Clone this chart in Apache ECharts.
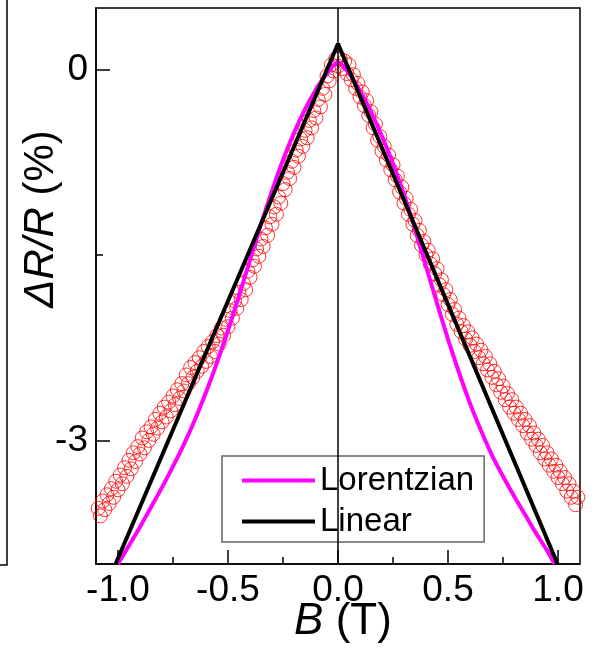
<!DOCTYPE html>
<html><head><meta charset="utf-8">
<script src="https://cdn.jsdelivr.net/npm/echarts@6/dist/echarts.min.js"></script>
<style>html,body{margin:0;padding:0;background:#fff}#c{width:594px;height:651px}</style>
</head><body><div id="c"></div>
<script>
// Measured magnetoresistance (open red circles)
const fieldB = [
-1.09,-1.08,-1.07,-1.06,-1.05,-1.04,-1.03,-1.02,-1.01,-1.00,
-0.99,-0.98,-0.97,-0.96,-0.95,-0.94,-0.93,-0.92,-0.91,-0.90,
-0.89,-0.88,-0.87,-0.86,-0.85,-0.84,-0.83,-0.82,-0.81,-0.80,
-0.79,-0.78,-0.77,-0.76,-0.75,-0.74,-0.73,-0.72,-0.71,-0.70,
-0.69,-0.68,-0.67,-0.66,-0.65,-0.64,-0.63,-0.62,-0.61,-0.60,
-0.59,-0.58,-0.57,-0.56,-0.55,-0.54,-0.53,-0.52,-0.51,-0.50,
-0.49,-0.48,-0.47,-0.46,-0.45,-0.44,-0.43,-0.42,-0.41,-0.40,
-0.39,-0.38,-0.37,-0.36,-0.35,-0.34,-0.33,-0.32,-0.31,-0.30,
-0.29,-0.28,-0.27,-0.26,-0.25,-0.24,-0.23,-0.22,-0.21,-0.20,
-0.19,-0.18,-0.17,-0.16,-0.15,-0.14,-0.13,-0.12,-0.11,-0.10,
-0.09,-0.08,-0.07,-0.06,-0.05,-0.04,-0.03,-0.02,-0.01,0.00,
0.01,0.02,0.03,0.04,0.05,0.06,0.07,0.08,0.09,0.10,
0.11,0.12,0.13,0.14,0.15,0.16,0.17,0.18,0.19,0.20,
0.21,0.22,0.23,0.24,0.25,0.26,0.27,0.28,0.29,0.30,
0.31,0.32,0.33,0.34,0.35,0.36,0.37,0.38,0.39,0.40,
0.41,0.42,0.43,0.44,0.45,0.46,0.47,0.48,0.49,0.50,
0.51,0.52,0.53,0.54,0.55,0.56,0.57,0.58,0.59,0.60,
0.61,0.62,0.63,0.64,0.65,0.66,0.67,0.68,0.69,0.70,
0.71,0.72,0.73,0.74,0.75,0.76,0.77,0.78,0.79,0.80,
0.81,0.82,0.83,0.84,0.85,0.86,0.87,0.88,0.89,0.90,
0.91,0.92,0.93,0.94,0.95,0.96,0.97,0.98,0.99,1.00,
1.01,1.02,1.03,1.04,1.05,1.06,1.07,1.08,1.09
];
const deltaR = [
-3.55,-3.61,-3.49,-3.56,-3.44,-3.51,-3.39,-3.46,-3.33,-3.40,
-3.28,-3.35,-3.22,-3.29,-3.16,-3.23,-3.10,-3.17,-3.05,-3.11,
-2.98,-3.06,-2.93,-3.00,-2.89,-2.95,-2.83,-2.90,-2.78,-2.85,
-2.73,-2.81,-2.69,-2.76,-2.64,-2.71,-2.59,-2.66,-2.54,-2.60,
-2.47,-2.54,-2.41,-2.49,-2.37,-2.44,-2.33,-2.40,-2.28,-2.36,
-2.24,-2.32,-2.20,-2.28,-2.15,-2.22,-2.09,-2.15,-2.02,-2.08,
-1.95,-2.01,-1.87,-1.93,-1.80,-1.86,-1.73,-1.78,-1.63,-1.68,
-1.54,-1.59,-1.45,-1.51,-1.37,-1.43,-1.28,-1.34,-1.19,-1.25,
-1.11,-1.17,-1.03,-1.08,-0.92,-0.97,-0.83,-0.88,-0.74,-0.79,
-0.65,-0.70,-0.56,-0.62,-0.49,-0.55,-0.41,-0.47,-0.33,-0.39,
-0.24,-0.30,-0.15,-0.20,-0.05,-0.09,0.04,-0.01,0.09,0.03,
0.09,0.01,0.07,-0.03,0.04,-0.08,-0.04,-0.15,-0.11,-0.22,
-0.18,-0.29,-0.25,-0.37,-0.34,-0.47,-0.44,-0.57,-0.54,-0.66,
-0.62,-0.73,-0.69,-0.81,-0.77,-0.89,-0.86,-0.99,-0.95,-1.08,
-1.04,-1.17,-1.13,-1.25,-1.22,-1.34,-1.30,-1.42,-1.39,-1.50,
-1.46,-1.57,-1.53,-1.65,-1.61,-1.74,-1.70,-1.82,-1.78,-1.90,
-1.86,-1.98,-1.94,-2.06,-2.01,-2.12,-2.07,-2.18,-2.12,-2.23,
-2.17,-2.28,-2.22,-2.33,-2.27,-2.38,-2.32,-2.43,-2.38,-2.49,
-2.44,-2.55,-2.50,-2.61,-2.56,-2.67,-2.62,-2.73,-2.67,-2.78,
-2.73,-2.83,-2.78,-2.88,-2.83,-2.94,-2.88,-2.99,-2.94,-3.04,
-2.99,-3.10,-3.04,-3.15,-3.10,-3.20,-3.15,-3.25,-3.20,-3.30,
-3.25,-3.35,-3.30,-3.41,-3.35,-3.46,-3.41,-3.52,-3.46
];
// Lorentzian fit (magenta)
const lorentzB = [-1.00,-0.95,-0.90,-0.85,-0.80,-0.75,-0.70,-0.65,-0.60,-0.55,-0.50,-0.45,-0.40,-0.35,-0.30,-0.25,-0.20,-0.15,-0.10,-0.05,0.00,
                  0.05,0.10,0.15,0.20,0.25,0.30,0.35,0.40,0.45,0.50,0.55,0.60,0.65,0.70,0.75,0.80,0.85,0.90,0.95,0.985];
const lorentzR = [-4.00,-3.85,-3.70,-3.54,-3.38,-3.21,-3.03,-2.83,-2.61,-2.37,-2.11,-1.83,-1.54,-1.25,-0.98,-0.73,-0.51,-0.32,-0.16,-0.03,0.06,
                  -0.03,-0.17,-0.34,-0.54,-0.76,-1.01,-1.29,-1.59,-1.89,-2.18,-2.45,-2.70,-2.92,-3.12,-3.29,-3.45,-3.60,-3.75,-3.89,-4.00];
// Linear fit (black)
const linearB = [-1.011, 0.0, 0.998];
const linearR = [-4.0, 0.21, -4.0];
// Axis ticks
const xMajorTicks = [-1.0,-0.5,0.0,0.5,1.0];
const xMinorTicks = [-0.75,-0.25,0.25,0.75];
const yMajorTicks = [-3,0];
const yMinorTicks = [-1.5];

const FONT = "'Liberation Sans', Arial, Helvetica, sans-serif";
const zip = (a,b) => a.map((v,i)=>[v,b[i]]);
const chart = echarts.init(document.getElementById('c'), null, {renderer:'canvas'});
const blackLine = {color:'#000', width:1.5};
const option = {
  animation:false,
  backgroundColor:'#fff',
  grid:[
    {left:96, right:14, top:8, bottom:87, show:true, borderColor:'#000', borderWidth:1.5,
     backgroundColor:'transparent', outerBoundsMode:'none', containLabel:false},
    {left:-300, width:307, top:-10, height:575, show:true, borderColor:'#000', borderWidth:1.5,
     backgroundColor:'transparent', outerBoundsMode:'none', containLabel:false}
  ],
  graphic:[
    {type:'text', x:41, y:219, rotation:Math.PI/2, z:10,
     style:{text:'{i|ΔR/R} (%)', fontSize:42, fontFamily:FONT, fill:'#000', align:'center', verticalAlign:'middle',
       rich:{i:{fontStyle:'italic', fontSize:42, fontFamily:FONT, fill:'#000'}}}}
  ],
  xAxis:[
    {gridIndex:0, type:'value', min:-1.1, max:1.1, position:'bottom',
     axisLine:{show:true, onZero:false, lineStyle:blackLine},
     axisTick:{show:true, inside:true, length:14, customValues:xMajorTicks, lineStyle:blackLine},
     axisLabel:{show:true, customValues:xMajorTicks, formatter:v=>v.toFixed(1), fontSize:37, color:'#000', fontFamily:FONT, margin:8},
     splitLine:{show:false},
     name:'{i|B} (T)', nameLocation:'middle', nameGap:36, nameMoveOverlap:false,
     nameTextStyle:{fontSize:44, color:'#000', fontFamily:FONT, padding:[0,0,0,10],
       rich:{i:{fontStyle:'italic', fontSize:44, fontFamily:FONT, color:'#000'}}}
    },
    {gridIndex:0, type:'value', min:-1.1, max:1.1, position:'bottom',
     axisLine:{show:false, onZero:false}, axisLabel:{show:false}, splitLine:{show:false},
     axisTick:{show:true, inside:true, length:7, customValues:xMinorTicks, lineStyle:blackLine}},
    {gridIndex:1, type:'value', show:false, min:0, max:1}
  ],
  yAxis:[
    {gridIndex:0, type:'value', min:-4, max:0.5, position:'left',
     axisLine:{show:true, onZero:false, lineStyle:blackLine},
     axisTick:{show:true, inside:true, length:14, customValues:yMajorTicks, lineStyle:blackLine},
     axisLabel:{show:true, customValues:yMajorTicks, formatter:v=>String(v), fontSize:37, color:'#000', fontFamily:FONT, margin:8},
     splitLine:{show:false}
    },
    {gridIndex:0, type:'value', min:-4, max:0.5, position:'left',
     axisLine:{show:false, onZero:false}, axisLabel:{show:false}, splitLine:{show:false},
     axisTick:{show:true, inside:true, length:7, customValues:yMinorTicks, lineStyle:blackLine}},
    {gridIndex:1, type:'value', show:false, min:0, max:1}
  ],
  legend:{
    data:[{name:'Lorentzian', icon:'rect'},{name:'Linear', icon:'rect'}],
    orient:'vertical', left:222, top:456,
    padding:[8,10,4,20], itemGap:8, itemWidth:73, itemHeight:4,
    backgroundColor:'#fff', borderColor:'#666', borderWidth:1.5, borderRadius:0,
    textStyle:{fontSize:33, fontFamily:FONT, color:'#000'}
  },
  series:[
    {type:'scatter', xAxisIndex:0, yAxisIndex:0, data:zip(fieldB, deltaR),
     symbol:'circle', symbolSize:14, z:2,
     itemStyle:{color:'rgba(255,255,255,0)', borderColor:'#ff0000', borderWidth:1},
     markLine:{silent:true, symbol:['none','none'], label:{show:false},
       lineStyle:{color:'#000', width:1.5, type:'solid'}, data:[{xAxis:0}]}
    },
    {name:'Lorentzian', type:'line', xAxisIndex:0, yAxisIndex:0, data:zip(lorentzB, lorentzR),
     smooth:0.3, symbol:'none', z:3, lineStyle:{color:'#ff00ff', width:4}, itemStyle:{color:'#ff00ff'}},
    {name:'Linear', type:'line', xAxisIndex:0, yAxisIndex:0, data:zip(linearB, linearR),
     symbol:'none', z:4, lineStyle:{color:'#000', width:4}, itemStyle:{color:'#000'}}
  ]
};
chart.setOption(option);
</script></body></html>
